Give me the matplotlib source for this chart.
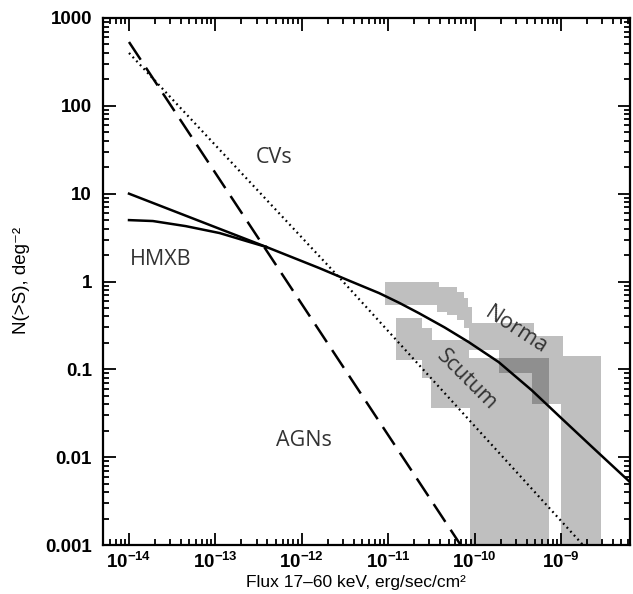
import numpy as np
import matplotlib.pyplot as plt
from matplotlib.ticker import LogLocator, NullFormatter

plt.rcParams['mathtext.fontset'] = 'custom'
plt.rcParams['mathtext.rm'] = 'Liberation Sans'
plt.rcParams['mathtext.bf'] = 'Liberation Sans:bold'

# logN-logS curves
agn_flux = [1e-14, 6.9e-11]
agn_n = [533, 0.001]

cv_flux = [1e-14, 3e-12, 1.8e-9]
cv_n = [400, 1.0, 0.001]

hmxb_top_flux = [1e-14, 3.9e-13]
hmxb_top_n = [10, 2.47]
hmxb_low_flux = [1e-14, 1.89e-14, 4.54e-14, 1.12e-13, 2.3e-13, 3.9e-13]
hmxb_low_n = [5.0, 4.88, 4.27, 3.56, 2.88, 2.47]
hmxb_flux = [3.9e-13, 1.6e-12, 3.55e-12, 7.85e-12, 1.35e-11, 2.27e-11, 4.5e-11,
             8.57e-11, 1.9e-10, 4.57e-10, 1.01e-9, 2.25e-9, 6.3e-9]
hmxb_n = [2.47, 1.42, 1.02, 0.738, 0.57, 0.436, 0.30,
          0.204, 0.121, 0.058, 0.0278, 0.0133, 0.0052]

# allowed regions (Norma / Scutum arms)
norma_flux = [9.2e-12, 3.87e-11, 3.87e-11, 6.24e-11, 6.24e-11, 7.5e-11, 7.5e-11,
              8.35e-11, 8.35e-11, 9.29e-11, 9.29e-11, 4.82e-10, 4.82e-10, 1.07e-9,
              1.07e-9, 2.93e-9, 2.93e-9, 1.01e-9, 1.01e-9, 4.57e-10, 4.57e-10,
              1.9e-10, 1.9e-10, 8.57e-11, 8.57e-11, 7.5e-11, 7.5e-11, 6.24e-11,
              6.24e-11, 4.78e-11, 4.78e-11, 3.66e-11, 3.66e-11, 9.2e-12]
norma_n = [0.984, 0.984, 0.863, 0.863, 0.757, 0.757, 0.647,
           0.647, 0.511, 0.511, 0.336, 0.336, 0.239, 0.239,
           0.141, 0.141, 1e-4, 1e-4, 0.0402, 0.0402, 0.0906,
           0.0906, 0.166, 0.166, 0.294, 0.294, 0.363, 0.363,
           0.414, 0.414, 0.448, 0.448, 0.539, 0.539]

scutum_flux = [1.23e-11, 2.46e-11, 2.46e-11, 3.21e-11, 3.21e-11, 8.57e-11, 8.57e-11,
               7.18e-10, 7.18e-10, 8.81e-11, 8.81e-11, 3.13e-11, 3.13e-11,
               2.46e-11, 2.46e-11, 1.23e-11]
scutum_n = [0.383, 0.383, 0.294, 0.294, 0.215, 0.215, 0.134,
            0.134, 1e-4, 1e-4, 0.0361, 0.0361, 0.0794,
            0.0794, 0.127, 0.127]

xtick_vals = [1e-14, 1e-13, 1e-12, 1e-11, 1e-10, 1e-9]
xtick_text = [r'$\mathbf{10^{-14}}$', r'$\mathbf{10^{-13}}$', r'$\mathbf{10^{-12}}$',
              r'$\mathbf{10^{-11}}$', r'$\mathbf{10^{-10}}$', r'$\mathbf{10^{-9}}$']
ytick_vals = [0.001, 0.01, 0.1, 1, 10, 100, 1000]
ytick_text = ['0.001', '0.01', '0.1', '1', '10', '100', '1000']

fig = plt.figure(figsize=(6.33, 5.94), dpi=100)
ax = fig.add_axes([103/633, 1-545/594, 527/633, 527/594])
ax.set_xscale('log')
ax.set_yscale('log')

ax.fill(norma_flux, norma_n, color='k', alpha=0.25, lw=0, zorder=1)
ax.fill(scutum_flux, scutum_n, color='k', alpha=0.25, lw=0, zorder=1)

ax.plot(agn_flux, agn_n, color='k', lw=1.8, dashes=(8.5, 3.8), zorder=3)
ax.plot(cv_flux, cv_n, color='k', lw=1.6, linestyle=(0, (0.8, 1.6)), zorder=3)
ax.plot(hmxb_top_flux, hmxb_top_n, color='k', lw=1.8, zorder=3)
ax.plot(hmxb_low_flux, hmxb_low_n, color='k', lw=1.8, zorder=3, solid_joinstyle='round')
ax.plot(hmxb_flux, hmxb_n, color='k', lw=1.8, zorder=3, solid_joinstyle='round')

lab = dict(family='Open Sans', color='#333333', fontsize=15.5, ha='center', va='center', zorder=4)
ax.text(4.8e-13, 26, 'CVs', **lab)
ax.text(2.3e-14, 1.8, 'HMXB', **lab)
ax.text(1.07e-12, 0.0156, 'AGNs', **lab)
ax.text(3.0e-10, 0.28, 'Norma', rotation=-33, rotation_mode='anchor', **lab)
ax.text(8.1e-11, 0.0753, 'Scutum', rotation=-45, rotation_mode='anchor', **lab)

# ticks on all sides, pointing in
ax.set_xticks(xtick_vals)
ax.set_xticklabels(xtick_text)
ax.xaxis.set_minor_locator(LogLocator(base=10, subs=np.arange(2, 10), numticks=20))
ax.xaxis.set_minor_formatter(NullFormatter())
ax.set_yticks(ytick_vals)
ax.set_yticklabels(ytick_text)
ax.yaxis.set_minor_locator(LogLocator(base=10, subs=np.arange(2, 10), numticks=20))
ax.yaxis.set_minor_formatter(NullFormatter())
ax.set_xlim(5e-15, 6.3e-9)
ax.set_ylim(0.001, 1000)

ax.tick_params(which='both', direction='in', top=True, right=True, width=1.3, color='k')
ax.tick_params(which='major', length=9)
ax.tick_params(which='minor', length=4.5)
ax.tick_params(axis='y', which='major', pad=8)
ax.tick_params(axis='x', which='major', pad=5)
for t in ax.get_xticklabels() + ax.get_yticklabels():
    t.set_fontfamily('Liberation Sans')
    t.set_fontweight('bold')
    t.set_fontsize(13.5)
for s in ax.spines.values():
    s.set_linewidth(1.6)

fig.text(356/633, 1-582/594, 'Flux 17\u201360 keV, erg/sec/cm\u00b2',
         family=['Liberation Sans', 'DejaVu Sans'], fontsize=12.5,
         ha='center', va='center')
fig.text(22/633, 1-280/594, 'N(>S), deg\u207b\u00b2',
         family=['Liberation Sans', 'DejaVu Sans'], fontsize=13.5,
         rotation=90, ha='center', va='center')

fig.savefig('out.png', dpi=100)
